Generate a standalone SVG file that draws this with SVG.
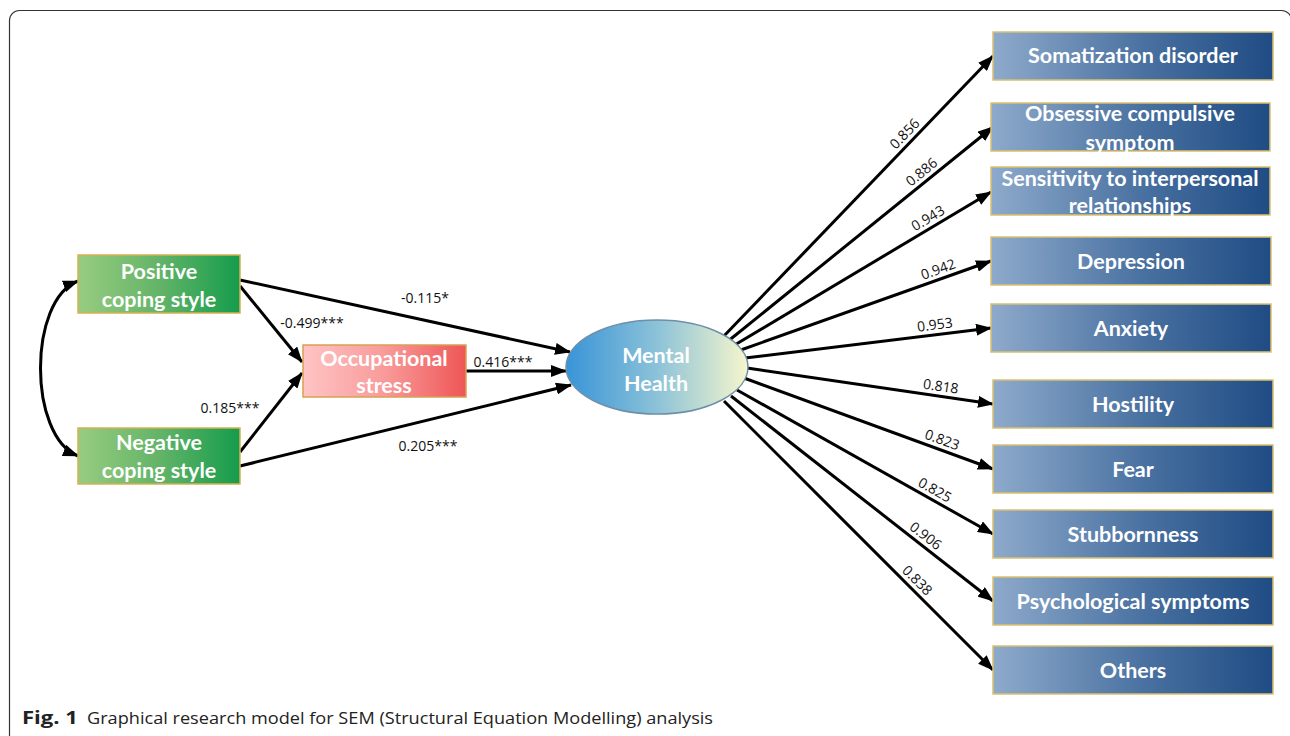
<svg xmlns="http://www.w3.org/2000/svg" width="1290" height="736" viewBox="0 0 1290 736">
<defs>
<linearGradient id="gBlue" x1="0" y1="0" x2="1" y2="0"><stop offset="0" stop-color="#8eaacb"/><stop offset="0.55" stop-color="#4870a0"/><stop offset="1" stop-color="#1f4c84"/></linearGradient>
<linearGradient id="gGreen" x1="0" y1="0" x2="1" y2="0"><stop offset="0" stop-color="#98cc80"/><stop offset="0.5" stop-color="#63b468"/><stop offset="1" stop-color="#159c4c"/></linearGradient>
<linearGradient id="gPink" x1="0" y1="0" x2="1" y2="0"><stop offset="0" stop-color="#ffc4c4"/><stop offset="0.5" stop-color="#f99a9a"/><stop offset="1" stop-color="#ef5656"/></linearGradient>
<linearGradient id="gEll" x1="0" y1="0" x2="1" y2="0"><stop offset="0" stop-color="#3894d8"/><stop offset="0.5" stop-color="#8cc2d8"/><stop offset="1" stop-color="#f6f6cc"/></linearGradient>
<marker id="ah" viewBox="0 0 16 12" refX="15" refY="6" markerWidth="16" markerHeight="12" markerUnits="userSpaceOnUse" orient="auto-start-reverse"><path d="M0,0 L16,6 L0,12 Z" fill="#000"/></marker>
</defs>
<style>
.frame{fill:none;stroke:#333;stroke-width:1.2}
.bb{fill:url(#gBlue);stroke:#dcc070;stroke-width:1.5}
.gb{fill:url(#gGreen);stroke:#d8b050;stroke-width:1.5}
.pb{fill:url(#gPink);stroke:#d8a050;stroke-width:1.5}
.nt{font-family:Lato,"Open Sans",sans-serif;font-weight:bold;font-size:21.5px;fill:#fff;text-anchor:middle}
.ln{stroke:#000;stroke-width:3;fill:none;marker-end:url(#ah)}
.lb{font-family:"Open Sans","Liberation Sans",sans-serif;font-size:14px;fill:#111;text-anchor:middle}
.cap{font-family:"Open Sans","Liberation Sans",sans-serif;font-size:17px;fill:#222}
</style>
<rect class="frame" x="9.5" y="10.5" width="1282" height="760" rx="10"/>

<g id="connectors">
<path d="M78,281 C28,300 28,436 78,456" stroke="#000" stroke-width="3" fill="none" marker-start="url(#ah)" marker-end="url(#ah)"/>
<line class="ln" x1="240" y1="280" x2="570" y2="352"/>
<line class="ln" x1="240" y1="286" x2="302" y2="362"/>
<line class="ln" x1="240" y1="452" x2="302" y2="373"/>
<line class="ln" x1="240" y1="466" x2="571" y2="385"/>
<line class="ln" x1="466" y1="371" x2="566" y2="371"/>
<text class="lb" x="425" y="303">-0.115*</text>
<text class="lb" x="312" y="328">-0.499***</text>
<text class="lb" x="230" y="413">0.185***</text>
<text class="lb" x="428" y="451">0.205***</text>
<text class="lb" x="503" y="367">0.416***</text>

<line class="ln" x1="722" y1="338" x2="993" y2="56"/>
<line class="ln" x1="727" y1="342" x2="993" y2="127"/>
<line class="ln" x1="733" y1="346" x2="991" y2="192"/>
<line class="ln" x1="738" y1="351" x2="991" y2="261"/>
<line class="ln" x1="745" y1="358" x2="991" y2="328"/>
<line class="ln" x1="747" y1="368" x2="993" y2="404"/>
<line class="ln" x1="744" y1="378" x2="993" y2="469"/>
<line class="ln" x1="737" y1="390" x2="993" y2="534"/>
<line class="ln" x1="731" y1="396" x2="993" y2="601"/>
<line class="ln" x1="724" y1="401" x2="993" y2="670"/>
<text class="lb" transform="translate(911.7,140.6) rotate(-46.1)" x="0" y="-5">0.856</text>
<text class="lb" transform="translate(927.8,179.7) rotate(-38.9)" x="0" y="-5">0.886</text>
<text class="lb" transform="translate(933,226.7) rotate(-30.8)" x="0" y="-5">0.943</text>
<text class="lb" transform="translate(941.4,278.6) rotate(-19.6)" x="0" y="-5">0.942</text>
<text class="lb" transform="translate(936,334.5) rotate(-7)" x="0" y="-5">0.953</text>
<text class="lb" transform="translate(939.4,396.1) rotate(8.3)" x="0" y="-5">0.818</text>
<text class="lb" transform="translate(938.7,449) rotate(20.1)" x="0" y="-5">0.823</text>
<text class="lb" transform="translate(930,498.5) rotate(29.4)" x="0" y="-5">0.825</text>
<text class="lb" transform="translate(919.6,543.6) rotate(38)" x="0" y="-5">0.906</text>
<text class="lb" transform="translate(910.3,587.3) rotate(45)" x="0" y="-5">0.838</text>
</g>

<g id="positive"><rect class="gb" x="78" y="255" width="162" height="58"/><text class="nt" x="159" y="279">Positive</text><text class="nt" x="159" y="307">coping style</text></g>
<g id="negative"><rect class="gb" x="78" y="428" width="162" height="56"/><text class="nt" x="159" y="450">Negative</text><text class="nt" x="159" y="478">coping style</text></g>
<g id="occupational"><rect class="pb" x="303" y="345" width="163" height="52"/><text class="nt" x="384" y="366">Occupational</text><text class="nt" x="384" y="393">stress</text></g>
<g id="mental"><ellipse cx="657" cy="367" rx="91" ry="47" fill="url(#gEll)" stroke="#6f8fa8" stroke-width="1.5"/><text class="nt" x="656" y="363">Mental</text><text class="nt" x="656" y="391">Health</text></g>

<g id="somatization"><rect class="bb" x="993" y="32" width="280" height="48"/><text class="nt" x="1133" y="63">Somatization disorder</text></g>
<g id="obsessive"><rect class="bb" x="991" y="103" width="279" height="48"/><text class="nt" x="1130" y="121">Obsessive compulsive</text><text class="nt" x="1130" y="150">symptom</text></g>
<g id="sensitivity"><rect class="bb" x="991" y="167" width="279" height="48"/><text class="nt" x="1130" y="186">Sensitivity to interpersonal</text><text class="nt" x="1130" y="213">relationships</text></g>
<g id="depression"><rect class="bb" x="991" y="237" width="280" height="48"/><text class="nt" x="1131" y="269">Depression</text></g>
<g id="anxiety"><rect class="bb" x="991" y="304" width="280" height="48"/><text class="nt" x="1131" y="336">Anxiety</text></g>
<g id="hostility"><rect class="bb" x="993" y="380" width="280" height="48"/><text class="nt" x="1133" y="412">Hostility</text></g>
<g id="fear"><rect class="bb" x="993" y="445" width="280" height="48"/><text class="nt" x="1133" y="477">Fear</text></g>
<g id="stubbornness"><rect class="bb" x="993" y="510" width="280" height="48"/><text class="nt" x="1133" y="542">Stubbornness</text></g>
<g id="psychological"><rect class="bb" x="993" y="577" width="280" height="48"/><text class="nt" x="1133" y="609">Psychological symptoms</text></g>
<g id="others"><rect class="bb" x="993" y="646" width="280" height="48"/><text class="nt" x="1133" y="678">Others</text></g>

<text class="cap" x="22" y="724"><tspan font-weight="bold" textLength="56" lengthAdjust="spacingAndGlyphs">Fig. 1</tspan><tspan x="87" textLength="626" lengthAdjust="spacingAndGlyphs">Graphical research model for SEM (Structural Equation Modelling) analysis</tspan></text>
</svg>
